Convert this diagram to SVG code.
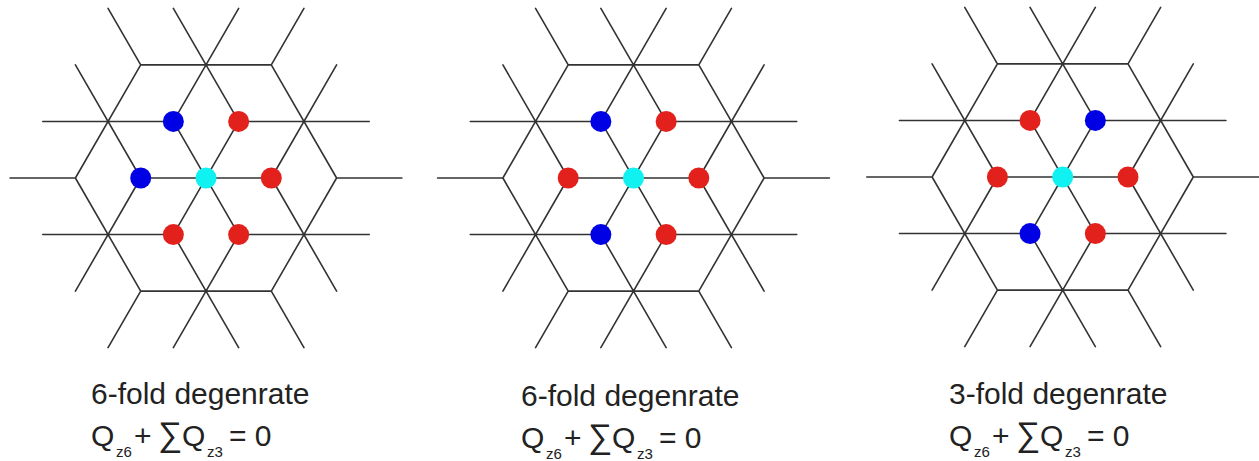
<svg xmlns="http://www.w3.org/2000/svg" width="1259" height="461" viewBox="0 0 1259 461">
<style>
.lat{fill:none;stroke:#333;stroke-width:1.6;stroke-linecap:round}
.r{fill:#e2211c}
.b{fill:#0000e4}
.c{fill:#10f2f2}
text{font-family:"Liberation Sans",Arial,sans-serif;fill:#222}
.t{font-size:30px}
.s{font-size:15px}
.sig{font-size:34px}
</style>
<defs>
<path id="lattice" class="lat" d="M-65.3 0H65.3M-32.65 -56.55L32.65 56.55M32.65 -56.55L-32.65 56.55
M-65.3 -113.1H65.3M-32.65 -169.65L32.65 -56.55M32.65 -169.65L-32.65 -56.55
M-65.3 113.1H65.3M-32.65 56.55L32.65 169.65M32.65 56.55L-32.65 169.65
M32.65 -56.55H163.25M65.3 -113.1L130.6 0M130.6 -113.1L65.3 0
M-163.25 -56.55H-32.65M-130.6 -113.1L-65.3 0M-65.3 -113.1L-130.6 0
M32.65 56.55H163.25M65.3 0L130.6 113.1M130.6 0L65.3 113.1
M-163.25 56.55H-32.65M-130.6 0L-65.3 113.1M-65.3 0L-130.6 113.1
M-65.3 -113.1L-97.95 -169.65M65.3 -113.1L97.95 -169.65M130.6 0H195.9
M65.3 113.1L97.95 169.65M-65.3 113.1L-97.95 169.65M-130.6 0H-195.9"/>
<g id="eq">
<text class="t" y="446"><tspan x="91">Q</tspan><tspan class="s" x="116" y="457">z6</tspan><tspan x="134" y="446">+</tspan><tspan class="sig" x="158">∑</tspan><tspan x="182">Q</tspan><tspan class="s" x="207" y="457">z3</tspan><tspan x="229" y="446">= 0</tspan></text>
</g>
</defs>
<g id="connectors">
<use href="#lattice" x="206" y="178"/>
<use href="#lattice" x="633.5" y="178"/>
<use href="#lattice" x="1062.7" y="177"/>
</g>
<g id="panel1">
<circle class="c" cx="206" cy="178" r="10.5"/>
<circle class="r" cx="271.3" cy="178" r="10.5"/>
<circle class="r" cx="238.65" cy="121.45" r="10.5"/>
<circle class="b" cx="173.35" cy="121.45" r="10.5"/>
<circle class="b" cx="140.7" cy="178" r="10.5"/>
<circle class="r" cx="173.35" cy="234.55" r="10.5"/>
<circle class="r" cx="238.65" cy="234.55" r="10.5"/>
<text class="t" x="91" y="404">6-fold degenrate</text>
<use href="#eq"/>
</g>
<g id="panel2">
<circle class="c" cx="633.5" cy="178" r="10.5"/>
<circle class="r" cx="698.8" cy="178" r="10.5"/>
<circle class="r" cx="666.15" cy="121.45" r="10.5"/>
<circle class="b" cx="600.85" cy="121.45" r="10.5"/>
<circle class="r" cx="568.2" cy="178" r="10.5"/>
<circle class="b" cx="600.85" cy="234.55" r="10.5"/>
<circle class="r" cx="666.15" cy="234.55" r="10.5"/>
<text class="t" x="521" y="406">6-fold degenrate</text>
<use href="#eq" x="430" y="2"/>
</g>
<g id="panel3">
<circle class="c" cx="1062.7" cy="177" r="10.5"/>
<circle class="r" cx="1128" cy="177" r="10.5"/>
<circle class="b" cx="1095.35" cy="120.45" r="10.5"/>
<circle class="r" cx="1030.05" cy="120.45" r="10.5"/>
<circle class="r" cx="997.4" cy="177" r="10.5"/>
<circle class="b" cx="1030.05" cy="233.55" r="10.5"/>
<circle class="r" cx="1095.35" cy="233.55" r="10.5"/>
<text class="t" x="949" y="404">3-fold degenrate</text>
<use href="#eq" x="858"/>
</g>
</svg>
